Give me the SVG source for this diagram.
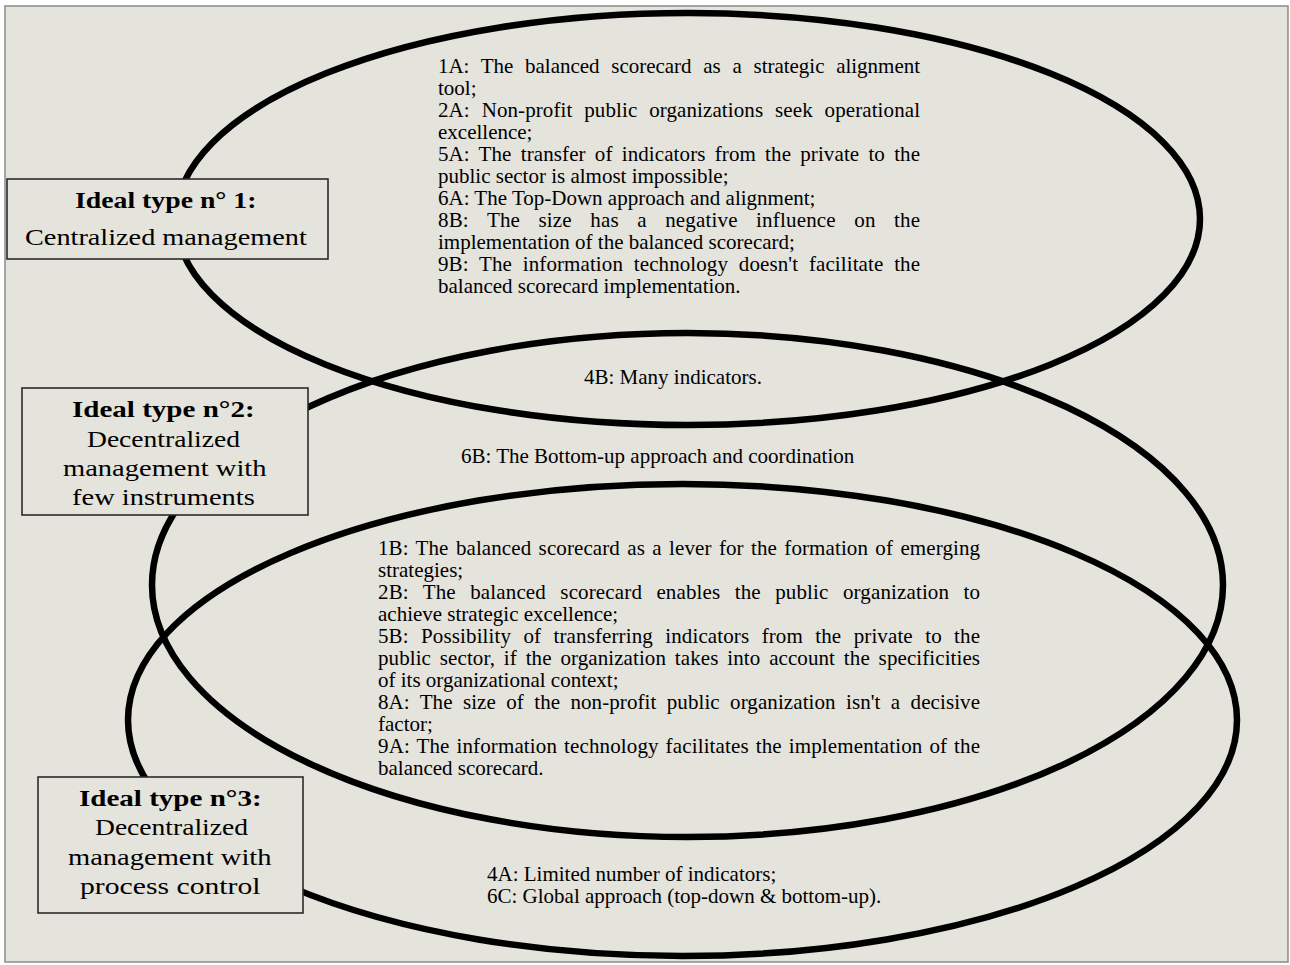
<svg xmlns="http://www.w3.org/2000/svg" width="1290" height="965" viewBox="0 0 1290 965">
<style>
.ring{fill:none;stroke:#000;stroke-width:6.5}
.box{fill:#e4e3dc;stroke:#2a2a2a;stroke-width:1.6}
.bt{font-family:"Liberation Serif","Times New Roman",serif;font-size:23px;fill:#000}
.bb{font-weight:bold;font-size:24px}
.tx{font-family:"Liberation Serif","Times New Roman",serif;font-size:21px;fill:#000}
</style>
<rect x="0" y="0" width="1290" height="965" fill="#ffffff"/>
<rect x="5" y="6" width="1283" height="956" fill="#e4e3dc" stroke="#8a8a8a" stroke-width="1.5"/>
<g id="connectors">
<g id="ellipse1"><ellipse class="ring" cx="688" cy="219" rx="512" ry="206"/></g>
<g id="ellipse2"><ellipse class="ring" cx="687.5" cy="585" rx="535.5" ry="252"/></g>
<g id="ellipse3"><ellipse class="ring" cx="682.5" cy="720" rx="554.5" ry="236"/></g>
</g>
<g id="type1">
<rect class="box" x="7" y="179" width="321" height="80"/>
<text class="bt bb" transform="translate(75,208) scale(1.1,1)" textLength="165" lengthAdjust="spacingAndGlyphs">Ideal type n° 1:</text>
<text class="bt" transform="translate(25,245) scale(1.15,1)" textLength="245" lengthAdjust="spacingAndGlyphs">Centralized management</text>
</g>
<g id="type2">
<rect class="box" x="22" y="388" width="286" height="127"/>
<text class="bt bb" transform="translate(72,417) scale(1.1,1)" textLength="166" lengthAdjust="spacingAndGlyphs">Ideal type n°2:</text>
<text class="bt" transform="translate(87,447) scale(1.15,1)" textLength="133" lengthAdjust="spacingAndGlyphs">Decentralized</text>
<text class="bt" transform="translate(63,476) scale(1.15,1)" textLength="177" lengthAdjust="spacingAndGlyphs">management with</text>
<text class="bt" transform="translate(72,505) scale(1.15,1)" textLength="159" lengthAdjust="spacingAndGlyphs">few instruments</text>
</g>
<g id="type3">
<rect class="box" x="38" y="777" width="265" height="136"/>
<text class="bt bb" transform="translate(79,806) scale(1.1,1)" textLength="166" lengthAdjust="spacingAndGlyphs">Ideal type n°3:</text>
<text class="bt" transform="translate(95,835) scale(1.15,1)" textLength="133" lengthAdjust="spacingAndGlyphs">Decentralized</text>
<text class="bt" transform="translate(68,865) scale(1.15,1)" textLength="177" lengthAdjust="spacingAndGlyphs">management with</text>
<text class="bt" transform="translate(80,894) scale(1.15,1)" textLength="157" lengthAdjust="spacingAndGlyphs">process control</text>
</g>
<g id="blockA">
<text class="tx" x="438" y="73" word-spacing="6.5" textLength="482" lengthAdjust="spacing">1A: The balanced scorecard as a strategic alignment</text>
<text class="tx" x="438" y="95">tool;</text>
<text class="tx" x="438" y="117" word-spacing="6.5" textLength="482" lengthAdjust="spacing">2A: Non-profit public organizations seek operational</text>
<text class="tx" x="438" y="139">excellence;</text>
<text class="tx" x="438" y="161" word-spacing="3.8" textLength="482" lengthAdjust="spacing">5A: The transfer of indicators from the private to the</text>
<text class="tx" x="438" y="183">public sector is almost impossible;</text>
<text class="tx" x="438" y="205">6A: The Top-Down approach and alignment;</text>
<text class="tx" x="438" y="227" word-spacing="13" textLength="482" lengthAdjust="spacing">8B: The size has a negative influence on the</text>
<text class="tx" x="438" y="249">implementation of the balanced scorecard;</text>
<text class="tx" x="438" y="271" word-spacing="5.5" textLength="482" lengthAdjust="spacing">9B: The information technology doesn't facilitate the</text>
<text class="tx" x="438" y="293">balanced scorecard implementation.</text>
</g>
<g id="label4B">
<text class="tx" x="584" y="384">4B: Many indicators.</text>
</g>
<g id="label6B">
<text class="tx" x="461" y="463">6B: The Bottom-up approach and coordination</text>
</g>
<g id="blockB">
<text class="tx" x="378" y="555" word-spacing="2" textLength="602" lengthAdjust="spacing">1B: The balanced scorecard as a lever for the formation of emerging</text>
<text class="tx" x="378" y="577">strategies;</text>
<text class="tx" x="378" y="599" word-spacing="9" textLength="602" lengthAdjust="spacing">2B: The balanced scorecard enables the public organization to</text>
<text class="tx" x="378" y="621">achieve strategic excellence;</text>
<text class="tx" x="378" y="643" word-spacing="7" textLength="602" lengthAdjust="spacing">5B: Possibility of transferring indicators from the private to the</text>
<text class="tx" x="378" y="665" word-spacing="3.5" textLength="602" lengthAdjust="spacing">public sector, if the organization takes into account the specificities</text>
<text class="tx" x="378" y="687">of its organizational context;</text>
<text class="tx" x="378" y="709" word-spacing="5" textLength="602" lengthAdjust="spacing">8A: The size of the non-profit public organization isn't a decisive</text>
<text class="tx" x="378" y="731">factor;</text>
<text class="tx" x="378" y="753" word-spacing="1.5" textLength="602" lengthAdjust="spacing">9A: The information technology facilitates the implementation of the</text>
<text class="tx" x="378" y="775">balanced scorecard.</text>
</g>
<g id="blockC">
<text class="tx" x="487" y="881">4A: Limited number of indicators;</text>
<text class="tx" x="487" y="903">6C: Global approach (top-down &amp; bottom-up).</text>
</g>
</svg>
